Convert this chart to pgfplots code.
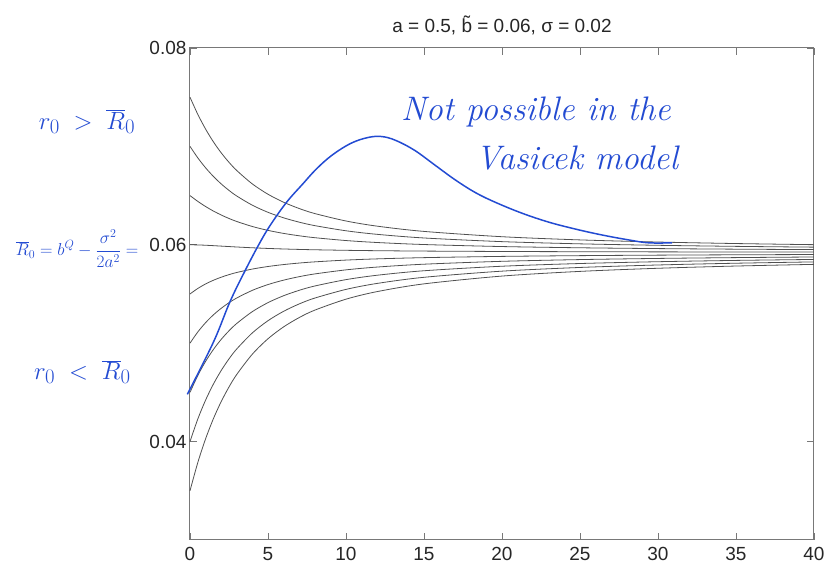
\documentclass[border=0pt]{standalone}
\usepackage{pgfplots}
\usepackage{pgfplotstable}
\usepackage{fontspec}
\setsansfont{Liberation Sans}
\pgfplotsset{compat=1.18}
\definecolor{inkblue}{RGB}{35,75,210}
\definecolor{curvegray}{RGB}{80,80,80}
\definecolor{axisgray}{RGB}{120,120,120}

\pgfplotstableread{
T    r35      r40      r45      r50      r55      r60      r65      r70      r75
0    0.035000 0.040000 0.045000 0.050000 0.055000 0.060000 0.065000 0.070000 0.075000
0.5  0.037866 0.042290 0.046714 0.051138 0.055562 0.059986 0.064410 0.068834 0.073258
1    0.040280 0.044215 0.048149 0.052084 0.056019 0.059953 0.063888 0.067823 0.071758
1.5  0.042324 0.045841 0.049359 0.052876 0.056394 0.059911 0.063429 0.066947 0.070464
2    0.044063 0.047223 0.050384 0.053544 0.056705 0.059865 0.063026 0.066187 0.069348
2.5  0.045550 0.048404 0.051258 0.054112 0.056966 0.059820 0.062674 0.065528 0.068382
3    0.046828 0.049417 0.052007 0.054596 0.057186 0.059775 0.062365 0.064954 0.067544
4    0.048888 0.051049 0.053210 0.055372 0.057534 0.059695 0.061857 0.064019 0.066181
5    0.050450 0.052285 0.054121 0.055957 0.057793 0.059628 0.061464 0.063300 0.065136
6    0.051655 0.053239 0.054822 0.056406 0.057990 0.059574 0.061157 0.062741 0.064325
7    0.052602 0.053988 0.055373 0.056758 0.058144 0.059529 0.060915 0.062300 0.063686
8    0.053357 0.054584 0.055811 0.057038 0.058265 0.059493 0.060720 0.061947 0.063174
10   0.054472 0.055465 0.056458 0.057451 0.058445 0.059438 0.060431 0.061424 0.062418
12   0.055243 0.056074 0.056905 0.057737 0.058568 0.059399 0.060231 0.061062 0.061893
15   0.056028 0.056695 0.057361 0.058027 0.058693 0.059360 0.060026 0.060692 0.061359
20   0.056820 0.057320 0.057820 0.058320 0.058820 0.059320 0.059820 0.060320 0.060820
25   0.057296 0.057696 0.058096 0.058496 0.058896 0.059296 0.059696 0.060096 0.060496
30   0.057613 0.057947 0.058280 0.058613 0.058947 0.059280 0.059613 0.059947 0.060280
35   0.057840 0.058126 0.058412 0.058697 0.058983 0.059268 0.059554 0.059840 0.060126
40   0.058010 0.058260 0.058510 0.058760 0.059010 0.059260 0.059510 0.059760 0.060010
}\curves

\begin{document}
\begin{tikzpicture}
\begin{axis}[
  width=624pt, height=492pt, scale only axis,
  xmin=0, xmax=40, ymin=0.03, ymax=0.08,
  xtick={0,5,...,40},
  ytick={0.04,0.06,0.08}, yticklabels={0.04,0.06,0.08},
  scaled y ticks=false,
  tick align=inside, major tick length=7pt,
  axis line style={axisgray, line width=1pt},
  every tick/.style={axisgray, line width=0.8pt},
  tick label style={font=\sffamily\fontsize{19}{19}\selectfont, text=black!85},
  xticklabel style={yshift=-4pt},
  /pgf/number format/assume math mode=true,
  clip=false,
]
% bounding box matching the reference proportions
\path (axis cs:-12.18,0.02685) rectangle (axis cs:40.9,0.084878);

\pgfplotsinvokeforeach{r35,r40,r45,r50,r55,r60,r65,r70,r75}{
  \addplot[curvegray, line width=0.8pt, smooth] table[x=T,y=#1]{\curves};
}

\addplot[inkblue, line width=1.5pt, smooth, tension=0.6] coordinates {
(-0.17,0.0448) (1.5,0.0501) (2.56,0.0542) (3.51,0.0573) (4.37,0.0599)
(5.11,0.0619) (6.18,0.0643) (7.24,0.0662) (8.1,0.0677) (9.1,0.0691)
(10.3,0.0703) (11.4,0.0709) (12.3,0.0710) (13.2,0.0706) (14.4,0.0696)
(15.7,0.0681) (17.0,0.0666) (18.3,0.0653) (19.6,0.0643) (21.3,0.0632)
(23.0,0.0623) (24.7,0.0616) (26.4,0.0610) (28.1,0.0605) (29.4,0.0602)
(30.9,0.0602)
};

\node[anchor=base, font=\sffamily\fontsize{19}{19}\selectfont, text=black!85]
  at (axis cs:20,0.081524) {a = 0.5, \~{b} = 0.06, σ = 0.02};

\node[inkblue, font=\itshape\fontsize{34}{34}\selectfont] at (axis cs:22.18,0.0735) {Not possible in the};
\node[inkblue, font=\itshape\fontsize{34}{34}\selectfont] at (axis cs:24.8,0.06882) {Vasicek model};

\node[inkblue, font=\fontsize{30}{30}\selectfont] at (axis cs:-6.6,0.07248) {$r_0 \;>\; \overline{R}_0$};
\node[inkblue, font=\fontsize{18}{18}\selectfont, anchor=east, inner sep=0pt] at (axis cs:-3.3,0.0596) {$\displaystyle\overline{R}_0 = b^{Q} - \frac{\sigma^2}{2a^2} =$};
\node[inkblue, font=\fontsize{30}{30}\selectfont] at (axis cs:-6.9,0.04707) {$r_0 \;<\; \overline{R}_0$};
\end{axis}
\end{tikzpicture}
\end{document}
